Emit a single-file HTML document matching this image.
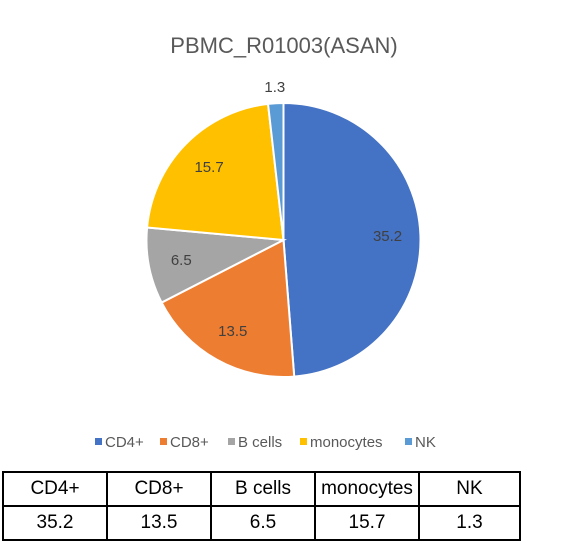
<!DOCTYPE html>
<html><head><meta charset="utf-8"><style>
body{margin:0;background:#fff;width:567px;height:553px;overflow:hidden;font-family:"Liberation Sans",sans-serif}
table{position:absolute;left:2px;top:471px;border-collapse:collapse;width:519px}
td{border:2px solid #000;text-align:center;font-size:19px;height:32px;padding:0;color:#000}
</style></head><body>
<svg width="567" height="470" style="position:absolute;left:0;top:0" id="chart">
<text x="284" y="53" text-anchor="middle" font-size="22" fill="#595959" font-family="Liberation Sans, sans-serif">PBMC_R01003(ASAN)</text>
</svg>
<table>
<tr><td style="width:102px">CD4+</td><td style="width:102px">CD8+</td><td style="width:102px">B cells</td><td style="width:102px">monocytes</td><td>NK</td></tr>
<tr><td>35.2</td><td>13.5</td><td>6.5</td><td>15.7</td><td>1.3</td></tr>
</table>
<script>
const categories=["CD4+","CD8+","B cells","monocytes","NK"];
const values=[35.2,13.5,6.5,15.7,1.3];
const colors=["#4472C4","#ED7D31","#A5A5A5","#FFC000","#5B9BD5"];
const svg=document.getElementById('chart');
const NS="http://www.w3.org/2000/svg";
const cx=283.5,cy=240,r=137;
const total=values.reduce((a,b)=>a+b,0);
let a0=0;
function pt(a,rr){return [cx+rr*Math.sin(a),cy-rr*Math.cos(a)];}
values.forEach((v,i)=>{
 const a1=a0+v/total*2*Math.PI;
 const p0=pt(a0,r),p1=pt(a1,r);
 const path=document.createElementNS(NS,'path');
 path.setAttribute('d',`M${cx},${cy}L${p0[0]},${p0[1]}A${r},${r} 0 ${a1-a0>Math.PI?1:0} 1 ${p1[0]},${p1[1]}Z`);
 path.setAttribute('fill',colors[i]);path.setAttribute('stroke','#fff');path.setAttribute('stroke-width','2');
 
 
 svg.appendChild(path);
 const mid=(a0+a1)/2;
 const small=v/total<0.04;
 const lp=pt(mid,small?r*1.12:r*0.76);
 const t=document.createElementNS(NS,'text');
 t.setAttribute('x',lp[0]);t.setAttribute('y',lp[1]+5);
 t.setAttribute('text-anchor','middle');t.setAttribute('font-size','15');t.setAttribute('fill','#404040');
 t.textContent=v;
 
 
 svg.appendChild(t);
 a0=a1;
});
const lx=[95,160,228,300,405];
categories.forEach((c,i)=>{
 const s=document.createElementNS(NS,'rect');
 s.setAttribute('x',lx[i]);s.setAttribute('y',438);s.setAttribute('width',7);s.setAttribute('height',7);s.setAttribute('fill',colors[i]);
 
 
 svg.appendChild(s);
 const t=document.createElementNS(NS,'text');
 t.setAttribute('x',lx[i]+10);t.setAttribute('y',447);t.setAttribute('font-size','15');t.setAttribute('fill','#595959');
 t.textContent=c;
 
 
 svg.appendChild(t);
});
</script>
</body></html>
